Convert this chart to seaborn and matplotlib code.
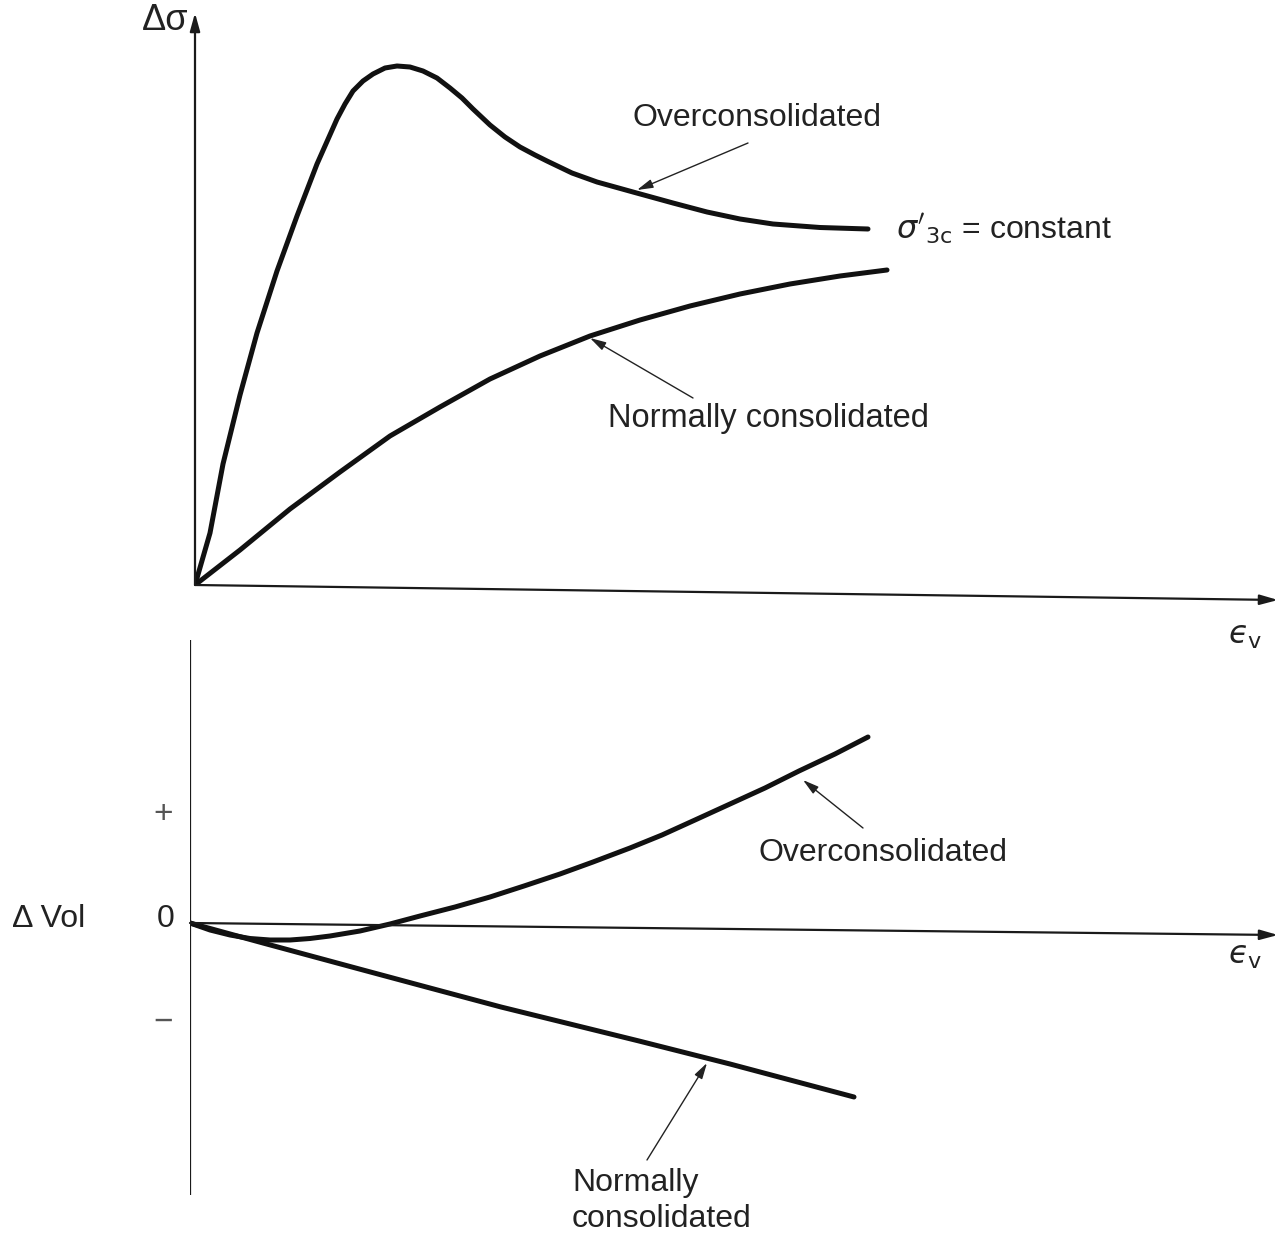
import numpy as np
import pandas as pd
import matplotlib
matplotlib.use("Agg")
import matplotlib.pyplot as plt
import seaborn as sns

# ---------------- data (arbitrary units) ----------------
# Top panel: deviator stress vs axial strain
oc_top_x = [0.00, 0.15, 0.28, 0.45, 0.62, 0.82, 1.02, 1.22, 1.42, 1.50, 1.58, 1.68, 1.78,
            1.90, 2.02, 2.15, 2.28, 2.42, 2.55, 2.67, 2.78, 2.95, 3.10, 3.25, 3.40, 3.52,
            3.77, 4.02, 4.38, 4.78, 5.12, 5.45, 5.78, 6.25, 6.73]
oc_top_y = [0.00, 0.52, 1.21, 1.90, 2.52, 3.14, 3.69, 4.21, 4.66, 4.81, 4.94, 5.04, 5.11,
            5.17, 5.19, 5.18, 5.14, 5.07, 4.97, 4.87, 4.76, 4.60, 4.48, 4.38, 4.30, 4.24,
            4.12, 4.03, 3.93, 3.82, 3.73, 3.66, 3.61, 3.575, 3.56]
nc_top_x = [0.00, 0.45, 0.95, 1.45, 1.95, 2.45, 2.95, 3.45, 3.95, 4.45, 4.95, 5.45, 5.95,
            6.45, 6.92]
nc_top_y = [0.00, 0.35, 0.76, 1.13, 1.49, 1.78, 2.06, 2.29, 2.49, 2.65, 2.79, 2.91, 3.01,
            3.09, 3.15]

# Bottom panel: volume change vs axial strain
oc_bot_x = [0.00, 0.20, 0.40, 0.60, 0.80, 1.00, 1.20, 1.40, 1.70, 2.00, 2.30, 2.65, 3.00,
            3.34, 3.70, 4.03, 4.40, 4.72, 5.05, 5.40, 5.75, 6.09, 6.45, 6.78]
oc_bot_y = [0.00, -0.07, -0.12, -0.155, -0.17, -0.17, -0.155, -0.13, -0.08, -0.01, 0.07,
            0.16, 0.26, 0.37, 0.49, 0.61, 0.75, 0.88, 1.03, 1.19, 1.35, 1.52, 1.69, 1.86]
nc_bot_x = [0.00, 0.73, 1.73, 2.40, 3.11, 3.80, 4.49, 5.40, 6.64]
nc_bot_y = [0.00, -0.20, -0.47, -0.65, -0.84, -1.01, -1.18, -1.41, -1.74]

label_oc = "Overconsolidated"
label_nc = "Normally consolidated"
label_nc_2 = "Normally\nconsolidated"

# ---------------- figure ----------------
sns.set_theme(style="white")
plt.rcParams["font.family"] = ["Liberation Sans", "DejaVu Sans"]
plt.rcParams["mathtext.fontset"] = "dejavusans"

W, H = 1283, 1238
fig = plt.figure(figsize=(W / 100, H / 100), dpi=100)
fig.patch.set_facecolor("white")


def fx(px):
    return px / W


def fy(py):
    return 1 - py / H


ax1 = fig.add_axes([fx(195), fy(585), fx(1083), 572 / H])
ax2 = fig.add_axes([fx(190), fy(1195), fx(1088), 555 / H])
ax1.set_xlim(0, 10.83)
ax1.set_ylim(0, 5.72)
ax2.set_xlim(0, 10.88)
ax2.set_ylim(-2.72, 2.83)
for ax in (ax1, ax2):
    ax.set_axis_off()
    ax.patch.set_alpha(0)

top = pd.concat([
    pd.DataFrame({"x": oc_top_x, "y": oc_top_y, "s": "oc"}),
    pd.DataFrame({"x": nc_top_x, "y": nc_top_y, "s": "nc"}),
])
bot = pd.concat([
    pd.DataFrame({"x": oc_bot_x, "y": oc_bot_y, "s": "oc"}),
    pd.DataFrame({"x": nc_bot_x, "y": nc_bot_y, "s": "nc"}),
])
pal = {"oc": "#111111", "nc": "#111111"}
sns.lineplot(data=top, x="x", y="y", hue="s", palette=pal, sort=False, estimator=None,
             lw=3.6, legend=False, ax=ax1, solid_capstyle="round", solid_joinstyle="round")
sns.lineplot(data=bot, x="x", y="y", hue="s", palette=pal, sort=False, estimator=None,
             lw=3.6, legend=False, ax=ax2, solid_capstyle="round", solid_joinstyle="round")

axis_kw = dict(arrowstyle="-|>,head_length=0.9,head_width=0.25", color="#1a1a1a", lw=1.6,
               shrinkA=0, shrinkB=0)
# top axes
ax1.annotate("", xy=(0, 5.72), xytext=(0, 0), xycoords="data", arrowprops=axis_kw,
             annotation_clip=False)
ax1.annotate("", xy=(10.83, -0.15), xytext=(0, 0), xycoords="data", arrowprops=axis_kw,
             annotation_clip=False)
# bottom axes
ax2.plot([0, 0], [-2.72, 2.83], color="#1a1a1a", lw=1.6)
ax2.annotate("", xy=(10.88, -0.12), xytext=(0, 0), xycoords="data", arrowprops=axis_kw,
             annotation_clip=False)

lab_kw = dict(fontsize=23, color="#222222")
arr_kw = dict(arrowstyle="-|>,head_length=0.8,head_width=0.22", color="#222222", lw=1.0,
              shrinkA=0, shrinkB=0)
eps_label = "$\u03f5_{\\mathrm{v}}$"

# top labels
fig.text(fx(142), fy(20), "Δσ", ha="left", va="center", fontsize=26, color="#222222")
fig.text(fx(632), fy(118), label_oc, ha="left", va="center", **lab_kw)
ax1.annotate("", xy=(4.42, 3.95), xycoords="data", xytext=(fx(748), fy(143)),
             textcoords="figure fraction", arrowprops=arr_kw)
fig.text(fx(896), fy(229), r"$\sigma'_{\mathrm{3c}}$ = constant", ha="left", va="center", **lab_kw)
fig.text(fx(608), fy(418), label_nc, ha="left", va="center", fontsize=23.5, color="#222222")
ax1.annotate("", xy=(3.95, 2.47), xycoords="data", xytext=(fx(693), fy(398)),
             textcoords="figure fraction", arrowprops=arr_kw)
fig.text(fx(1228), fy(636), eps_label, ha="left", va="center", **lab_kw)

# bottom labels
fig.text(fx(12), fy(919), "Δ Vol", ha="left", va="center", **lab_kw)
fig.text(fx(157), fy(919), "0", ha="left", va="center", **lab_kw)
fig.text(fx(163), fy(814), "+", ha="center", va="center", fontsize=24, color="#555555")
fig.text(fx(163), fy(1022), "−", ha="center", va="center", fontsize=24, color="#555555")
fig.text(fx(1228), fy(956), eps_label, ha="left", va="center", **lab_kw)
fig.text(fx(758), fy(853), label_oc, ha="left", va="center", **lab_kw)
ax2.annotate("", xy=(6.13, 1.43), xycoords="data", xytext=(fx(863), fy(828)),
             textcoords="figure fraction", arrowprops=arr_kw)
fig.text(fx(572), fy(1201), label_nc_2, ha="left", va="center", linespacing=1.25, **lab_kw)
ax2.annotate("", xy=(5.17, -1.40), xycoords="data", xytext=(fx(647), fy(1160)),
             textcoords="figure fraction", arrowprops=arr_kw)

fig.savefig("out.png", dpi=100, facecolor="white")
